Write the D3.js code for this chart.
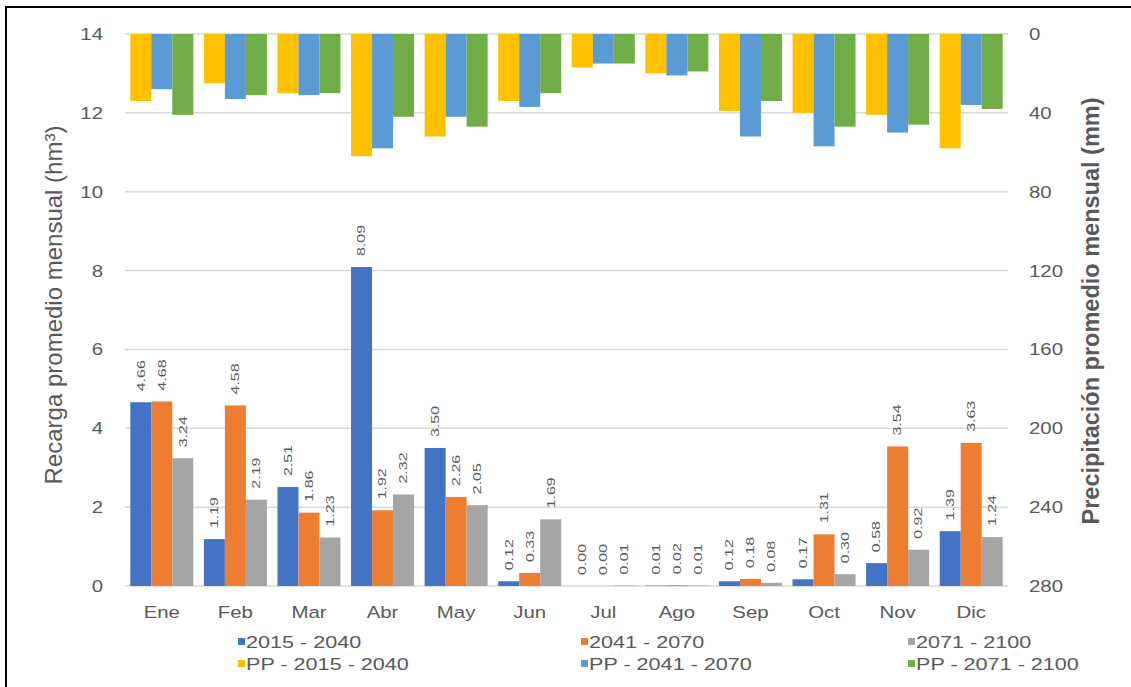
<!DOCTYPE html>
<html lang="es">
<head>
  <meta charset="utf-8">
  <title>Recarga y precipitación promedio mensual</title>
  <script src="https://d3js.org/d3.v7.min.js"></script>
  <style>
    body { margin: 0; background: #fff; }
    svg { font-family: "Liberation Sans", Arial, sans-serif; }
    .tick-lbl { fill: #595959; font-size: 17px; }
    .val-lbl { fill: #595959; font-size: 11px; }
    .grid { stroke: #d9d9d9; stroke-width: 1.5; }
  </style>
</head>
<body>
<script>
  // months and series
  const months = ["Ene", "Feb", "Mar", "Abr", "May", "Jun", "Jul", "Ago", "Sep", "Oct", "Nov", "Dic"];

  // recarga (hm3)
  const rec2015 = [4.66, 1.19, 2.51, 8.09, 3.50, 0.12, 0.00, 0.01, 0.12, 0.17, 0.58, 1.39];
  const rec2041 = [4.68, 4.58, 1.86, 1.92, 2.26, 0.33, 0.00, 0.02, 0.18, 1.31, 3.54, 3.63];
  const rec2071 = [3.24, 2.19, 1.23, 2.32, 2.05, 1.69, 0.01, 0.01, 0.08, 0.30, 0.92, 1.24];

  // precipitacion (mm)
  const pp2015 = [34, 25, 30, 62, 52, 34, 17, 20, 39, 40, 41, 58];
  const pp2041 = [28, 33, 31, 58, 42, 37, 15, 21, 52, 57, 50, 36];
  const pp2071 = [41, 31, 30, 42, 47, 30, 15, 19, 34, 47, 46, 38];

  const leftTicks = [0, 2, 4, 6, 8, 10, 12, 14];
  const rightTicks = [0, 40, 80, 120, 160, 200, 240, 280];

  const recSeries = [
    { name: "2015 - 2040", values: rec2015, color: "#4472c4" },
    { name: "2041 - 2070", values: rec2041, color: "#ed7d31" },
    { name: "2071 - 2100", values: rec2071, color: "#a5a5a5" }
  ];
  const ppSeries = [
    { name: "PP - 2015 - 2040", values: pp2015, color: "#ffc000" },
    { name: "PP - 2041 - 2070", values: pp2041, color: "#5b9bd5" },
    { name: "PP - 2071 - 2100", values: pp2071, color: "#70ad47" }
  ];

  const W = 1131, H = 687;
  const svg = d3.select("body").append("svg").attr("width", W).attr("height", H);

  // frame of the original picture (only left and top edges are visible)
  svg.append("path")
    .attr("d", "M6,687 V7 H1131")
    .attr("fill", "none").attr("stroke", "#000").attr("stroke-width", 2);

  const x = d3.scaleBand().domain(months).range([125, 1008])
    .paddingInner(0.144).paddingOuter(0.072);
  const yL = d3.scaleLinear().domain([0, 14]).range([586, 34]);
  const yR = d3.scaleLinear().domain([0, 280]).range([34, 586]);

  const xs = d3.scaleBand().domain([0, 1, 2]).range([0, x.bandwidth()]);

  // the source picture is a bit wider than tall, text looks stretched
  const sx = 1.2;

  // gridlines
  svg.append("g").selectAll("line").data(leftTicks).join("line")
    .attr("class", "grid")
    .attr("x1", 125).attr("x2", 1008)
    .attr("y1", d => yL(d)).attr("y2", d => yL(d));

  // left axis labels
  svg.append("g").selectAll("text").data(leftTicks).join("text")
    .attr("class", "tick-lbl")
    .attr("transform", d => `translate(103,${yL(d)}) scale(${sx},1)`)
    .attr("dy", "0.35em").attr("text-anchor", "end")
    .text(d => d);

  // right axis labels
  svg.append("g").selectAll("text").data(rightTicks).join("text")
    .attr("class", "tick-lbl")
    .attr("transform", d => `translate(1029,${yR(d)}) scale(${sx},1)`)
    .attr("dy", "0.35em").attr("text-anchor", "start")
    .text(d => d);

  // month labels
  svg.append("g").selectAll("text").data(months).join("text")
    .attr("class", "tick-lbl")
    .attr("transform", d => `translate(${x(d) + x.bandwidth() / 2},612) scale(${sx},1)`)
    .attr("dy", "0.35em").attr("text-anchor", "middle")
    .text(d => d);

  // precipitation bars hanging from the top
  ppSeries.forEach((s, i) => {
    svg.append("g").selectAll("rect").data(months).join("rect")
      .attr("x", d => x(d) + xs(i))
      .attr("width", xs.bandwidth())
      .attr("y", yR(0))
      .attr("height", (d, j) => yR(s.values[j]) - yR(0))
      .attr("fill", s.color);
  });

  // recharge bars
  recSeries.forEach((s, i) => {
    svg.append("g").selectAll("rect").data(months).join("rect")
      .attr("x", d => x(d) + xs(i))
      .attr("width", xs.bandwidth())
      .attr("y", (d, j) => yL(s.values[j]))
      .attr("height", (d, j) => yL(0) - yL(s.values[j]))
      .attr("fill", s.color);

    // rotated value labels
    svg.append("g").selectAll("text").data(months).join("text")
      .attr("class", "val-lbl")
      .attr("transform", (d, j) => {
        const cx = x(d) + xs(i) + xs.bandwidth() / 2;
        const cy = yL(s.values[j]) - 11;
        return `translate(${cx},${cy}) rotate(-90) scale(1.45,1)`;
      })
      .attr("dy", "0.35em")
      .attr("text-anchor", "start")
      .text((d, j) => s.values[j].toFixed(2));
  });

  // axis titles
  svg.append("text")
    .attr("transform", "translate(54,305) rotate(-90)")
    .attr("text-anchor", "middle").attr("dy", "0.35em")
    .attr("fill", "#595959").style("font-size", "24px")
    .text("Recarga promedio mensual (hm³)");

  svg.append("text")
    .attr("transform", "translate(1091,311) rotate(-90)")
    .attr("text-anchor", "middle").attr("dy", "0.35em")
    .attr("fill", "#595959").style("font-size", "23.5px").style("font-weight", "bold")
    .text("Precipitación promedio mensual (mm)");

  // legend: two rows, three columns
  const legCols = [238, 581, 908];
  const legRows = [642, 664];
  [recSeries, ppSeries].forEach((row, r) => {
    row.forEach((s, c) => {
      const g = svg.append("g")
        .attr("transform", `translate(${legCols[c]},${legRows[r]})`);
      g.append("rect").attr("x", 0).attr("y", -4).attr("width", 7).attr("height", 7)
        .attr("fill", s.color);
      g.append("text")
        .attr("transform", "translate(8,0) scale(1.35,1)")
        .attr("dy", "0.35em")
        .attr("fill", "#595959").style("font-size", "16px")
        .text(s.name);
    });
  });
</script>
</body>
</html>
